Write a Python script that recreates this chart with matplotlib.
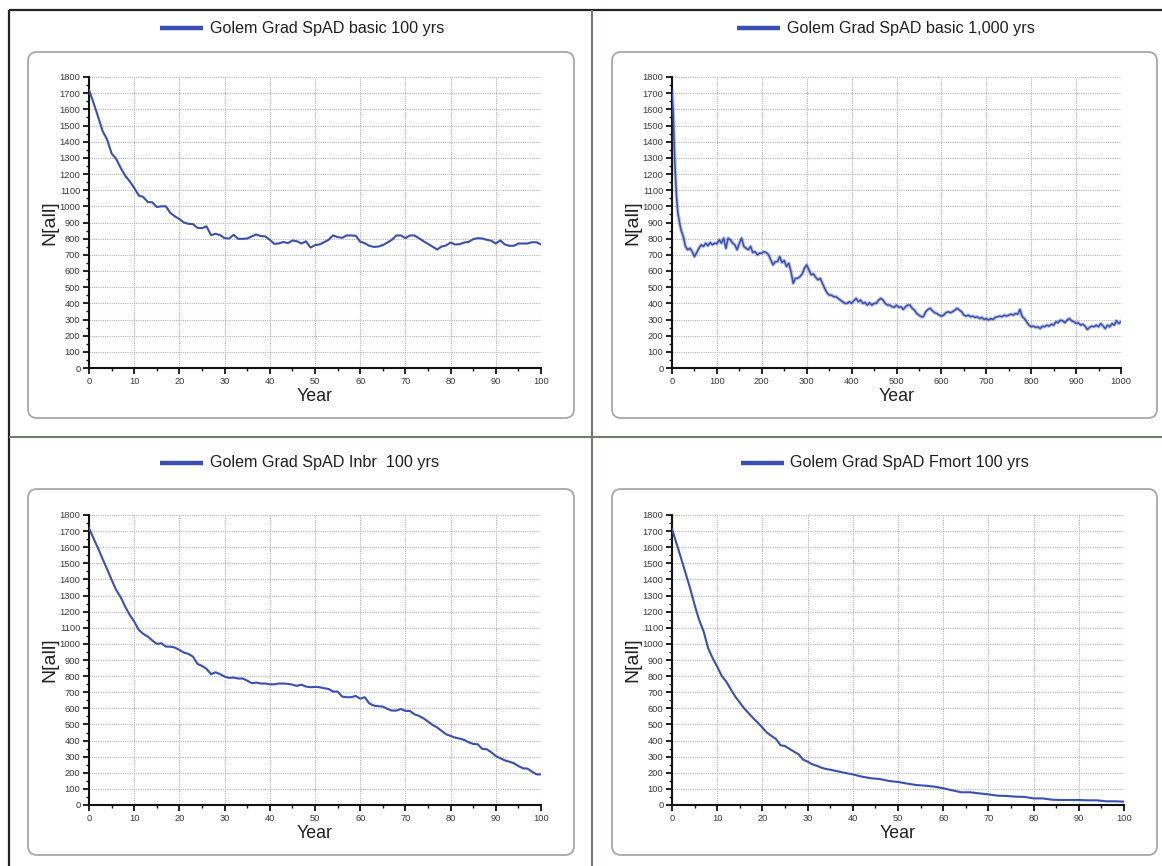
import matplotlib
matplotlib.use('Agg')
import matplotlib.pyplot as plt
from matplotlib.patches import FancyBboxPatch
from matplotlib.lines import Line2D
from matplotlib.transforms import IdentityTransform
from matplotlib.ticker import MultipleLocator
from matplotlib import font_manager as fm

# ---------------- data ----------------
basic100_years = list(range(0, 101))
basic100 = [1720, 1640, 1555, 1466, 1414, 1327, 1294, 1238, 1190, 1155, 1114,
            1068, 1058, 1027, 1025, 996, 1000, 1000, 959, 938, 921,
            900, 892, 890, 867, 865, 876, 822, 830, 822, 803,
            801, 824, 799, 799, 801, 814, 826, 816, 814, 793,
            768, 770, 780, 772, 789, 784, 770, 784, 745, 760,
            764, 778, 793, 820, 810, 805, 820, 820, 818, 782,
            772, 756, 749, 751, 760, 776, 793, 820, 820, 803,
            820, 820, 803, 784, 768, 751, 733, 751, 758, 776,
            764, 766, 776, 780, 797, 803, 801, 793, 787, 770,
            789, 764, 756, 756, 770, 770, 770, 778, 778, 764]

basic1000_years = [0, 3, 5, 7, 10, 13, 17, 20] + list(range(25, 1001, 5))
basic1000 = [1714, 1559, 1373, 1228, 1062, 959, 896, 855,
             814, 752, 731, 741, 720, 689, 714, 741, 762, 752, 772, 756, 776, 762, 772, 768,   # 25-100
             793, 772, 803, 740, 803, 793, 772, 762, 731, 772, 803, 752, 741, 731, 752, 714,   # 105-180
             720, 700, 710, 710, 720, 714, 700, 669, 638, 658, 658, 689, 652, 665, 627, 648,   # 185-260
             596, 524, 555, 555, 565, 582, 617, 638, 607, 576, 582, 561, 545, 555, 524, 493,   # 265-340
             466, 451, 451, 441, 441, 431, 420, 410, 400, 400, 410, 400, 416, 431, 410, 420,   # 345-420
             400, 406, 389, 404, 389, 400, 400, 420, 431, 420, 400, 389, 389, 379, 375, 389,   # 425-500
             375, 379, 362, 379, 389, 389, 369, 358, 337, 327, 317, 317, 348, 362, 369, 354,   # 505-580
             342, 337, 327, 321, 327, 342, 348, 342, 348, 358, 369, 358, 348, 327, 321, 327,   # 585-660
             317, 321, 313, 317, 306, 313, 300, 306, 296, 306, 300, 313, 317, 321, 317, 327,   # 665-740
             321, 327, 333, 327, 337, 333, 362, 317, 306, 286, 265, 255, 259, 251, 255, 244,   # 745-820
             259, 255, 265, 259, 271, 265, 286, 280, 296, 292, 280, 296, 306, 292, 286, 275,   # 825-900
             280, 265, 271, 259, 238, 251, 259, 255, 265, 255, 275, 259, 244, 265, 255, 275,   # 905-980
             265, 292, 275, 286]                                                               # 985-1000

inbr100_years = list(range(0, 101))
inbr100 = [1718, 1655, 1594, 1528, 1464, 1398, 1335, 1290, 1232, 1180, 1139,
           1087, 1062, 1046, 1021, 1000, 1004, 983, 983, 977, 963,
           946, 938, 921, 876, 863, 845, 812, 824, 812, 797,
           789, 791, 785, 785, 772, 756, 760, 754, 754, 749,
           749, 754, 754, 752, 747, 739, 747, 735, 731, 733,
           731, 725, 720, 704, 704, 673, 669, 669, 677, 660,
           669, 631, 617, 613, 611, 596, 586, 586, 596, 584,
           584, 563, 553, 538, 518, 497, 482, 460, 439, 429,
           418, 412, 404, 389, 379, 377, 348, 346, 327, 304,
           290, 277, 269, 259, 242, 228, 226, 207, 190, 190]

fmort100_years = list(range(0, 41)) + list(range(42, 101, 2))
fmort100 = [1714, 1623, 1532, 1439, 1346, 1242, 1149, 1077, 973, 911, 859,
            801, 766, 718, 673, 636, 598, 569, 538, 511, 480,
            449, 429, 410, 371, 366, 348, 331, 315, 282, 269,
            253, 244, 232, 224, 219, 213, 207, 201, 195, 190,
            176, 166, 161, 149, 143, 133, 124, 120, 114, 104,
            91, 79, 79, 72, 66, 58, 56, 52, 50, 41,
            41, 33, 31, 31, 31, 29, 29, 23, 23, 21]

titles = ["Golem Grad SpAD basic 100 yrs", "Golem Grad SpAD basic 1,000 yrs",
          "Golem Grad SpAD Inbr  100 yrs", "Golem Grad SpAD Fmort 100 yrs"]
x_label = "Year"
y_label = "N[all]"

# ---------------- style ----------------
names = {f.name for f in fm.fontManager.ttflist}
NARROW = 'Liberation Sans Narrow' if 'Liberation Sans Narrow' in names else None
REG = 'Liberation Sans' if 'Liberation Sans' in names else 'DejaVu Sans'
MAIN = NARROW or REG
plt.rcParams['font.family'] = [MAIN, 'DejaVu Sans']
k = 1.2 if NARROW else 1.0   # narrow font can be set larger for the same width

W, H = 1162, 866
BLUE = '#3a4fb0'
fig = plt.figure(figsize=(W / 100, H / 100), dpi=100)
fig.patch.set_facecolor('white')
ID = IdentityTransform()


def rect(l, t, r, b):
    return [l / W, 1 - b / H, (r - l) / W, (b - t) / H]


def pline(x0, y0, x1, y1, **kw):
    fig.add_artist(Line2D([x0, x1], [H - y0, H - y1], transform=ID, **kw))


# outer frame and dividers
pline(9, 10, W, 10, color='#222222', lw=1.6, solid_capstyle='butt')
pline(9, 10, 9, H, color='#222222', lw=1.6, solid_capstyle='butt')
pline(592, 10, 592, H, color='#6e7d6e', lw=1.5, solid_capstyle='butt')
pline(9, 437, W, 437, color='#6e7d6e', lw=1.5, solid_capstyle='butt')

panels = [
    dict(box=(28, 52, 574, 418), ax=(89, 77, 541, 368), leg=(160, 203, 210, 28),
         x=basic100_years, y=basic100, xmax=100, xmaj=10, xmin=5),
    dict(box=(612, 52, 1157, 418), ax=(672, 77, 1121, 368), leg=(737, 780, 787, 28),
         x=basic1000_years, y=basic1000, xmax=1000, xmaj=100, xmin=50),
    dict(box=(28, 489, 574, 855), ax=(89, 515, 541, 805), leg=(160, 203, 210, 463),
         x=inbr100_years, y=inbr100, xmax=100, xmaj=10, xmin=5),
    dict(box=(612, 489, 1157, 855), ax=(672, 515, 1124, 805), leg=(741, 784, 790, 463),
         x=fmort100_years, y=fmort100, xmax=100, xmaj=10, xmin=5),
]

for i, p in enumerate(panels):
    l, t, r, b = p['box']
    fig.add_artist(FancyBboxPatch((l, H - b), r - l, b - t,
                                  boxstyle='round,pad=0,rounding_size=9',
                                  transform=ID, facecolor='white',
                                  edgecolor='#a8a8a8', lw=1.3, zorder=0))
    # legend
    x0, x1, xt, yl = p['leg']
    pline(x0, yl, x1, yl, color=BLUE, lw=3.2, solid_capstyle='butt')
    fig.text(xt / W, 1 - yl / H, titles[i], fontsize=11.6 * k, color='#1e1e1e',
             ha='left', va='center')

    ax = fig.add_axes(rect(*p['ax']))
    ax.set_facecolor('none')
    if p['xmax'] == 1000:
        ax.plot(p['x'], p['y'], color=BLUE, lw=2.6, alpha=0.35, zorder=3)
        ax.plot(p['x'], p['y'], color=BLUE, lw=1.1, zorder=4)
    else:
        ax.plot(p['x'], p['y'], color=BLUE, lw=1.5, zorder=4)
    ax.set_xlim(0, p['xmax'])
    ax.set_ylim(0, 1800)
    ax.xaxis.set_major_locator(MultipleLocator(p['xmaj']))
    ax.xaxis.set_minor_locator(MultipleLocator(p['xmin']))
    ax.yaxis.set_major_locator(MultipleLocator(100))
    ax.yaxis.set_minor_locator(MultipleLocator(50))
    ax.grid(True, which='major', color='#b4b4b4', linestyle=(0, (1, 1)), lw=0.8, zorder=1)
    ax.set_axisbelow(True)
    for s in ['top', 'right']:
        ax.spines[s].set_visible(False)
    for s in ['left', 'bottom']:
        ax.spines[s].set_linewidth(1.5)
        ax.spines[s].set_color('#111111')
    ax.tick_params(which='major', direction='out', length=4, width=1.3,
                   color='#111111', labelsize=6.7 * k, labelcolor='#3a3a3a', pad=2.2)
    ax.tick_params(which='minor', direction='out', length=2.2, width=1.0, color='#111111')
    ax.tick_params(axis='x', which='major', pad=2.8)
    ax.set_xlabel(x_label, fontsize=12.8 * k, color='#222222', labelpad=1)
    ax.set_ylabel(y_label, fontsize=14, family=[REG, 'DejaVu Sans'], color='#222222', labelpad=1)

fig.savefig('out.png', dpi=100)
